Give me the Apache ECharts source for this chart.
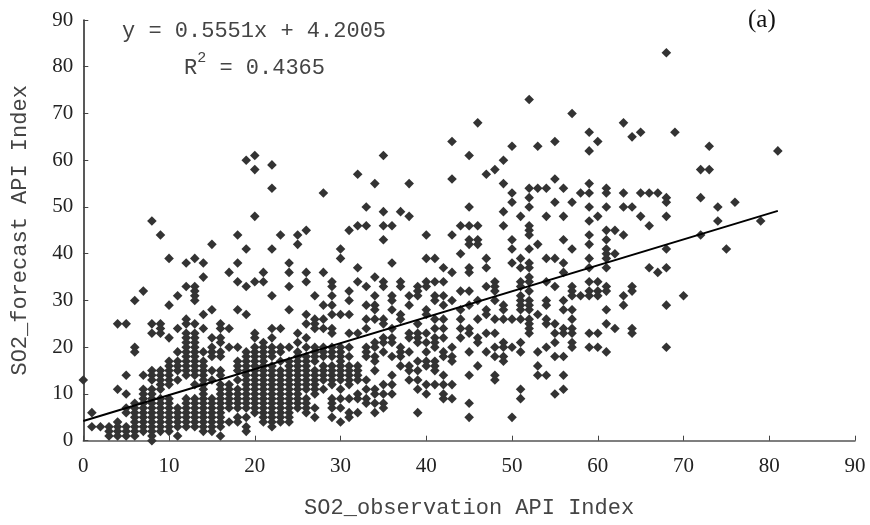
<!DOCTYPE html>
<html><head><meta charset="utf-8">
<style>html,body{margin:0;background:#fff}#c{width:870px;height:525px}</style>
<script src="https://cdn.jsdelivr.net/npm/echarts@6/dist/echarts.min.js"></script>
</head><body><div id="c"></div>
<script>
// forecast values grouped by observation value: [observation, [forecast...]]
const columns = [
[0,[13]],[1,[6,3]],[2,[3]],[3,[3,2,1]],[4,[25,11,4,3,2,1]],
[5,[25,14,10,7,6,3,2,1]],[6,[30,20,19,8,7,6,5,4,3,2,1]],[7,[32,14,11,10,9,8,7,6,5,4,3,2]],
[8,[47,25,23,15,14,13,11,10,9,8,7,6,5,4,3,2,1,0]],[9,[44,25,24,23,15,14,13,12,11,9,8,7,6,5,4,3,2]],
[10,[39,29,22,17,16,15,14,13,12,9,8,7,6,5,4,3,2]],[11,[31,24,19,17,16,15,13,7,6,5,4,3,1]],
[12,[38,33,26,25,23,22,21,20,19,18,17,16,15,14,9,8,7,6,5,4,3]],
[13,[39,33,32,31,30,25,23,22,21,20,19,18,17,16,15,14,12,9,8,7,6,5,4,3]],
[14,[38,35,27,24,19,17,16,15,14,13,12,11,10,9,8,7,6,5,4,3,2]],
[15,[42,28,22,20,19,18,15,13,9,8,7,6,5,4,3,2]],
[16,[25,24,22,21,19,18,15,14,12,11,10,9,8,7,6,5,4,3,1]],
[17,[36,24,20,12,11,10,9,8,7,4]],[18,[44,38,34,28,20,17,16,15,13,11,10,9,8,7,5,4]],
[19,[60,41,33,27,19,18,17,16,15,14,13,12,11,10,9,8,7,5,3,2]],
[20,[61,58,48,34,23,22,20,19,18,17,16,15,14,13,12,11,10,9,8,7,6]],
[21,[36,34,21,20,19,18,17,16,15,14,13,12,11,10,9,8,7,6,5,4]],
[22,[59,54,41,31,24,22,20,19,18,16,15,14,13,12,11,10,9,8,7,6,5,4,3]],
[23,[44,24,20,19,17,15,14,13,12,11,10,9,8,7,6,5,4]],
[24,[38,36,33,28,20,17,16,15,14,13,12,11,10,9,8,7,6,5,4]],
[25,[44,42,23,21,19,18,17,16,15,14,13,12,11,10,9,8,7]],
[26,[45,36,34,27,25,22,20,18,17,16,15,14,13,12,11,9,8,7,6]],
[27,[31,26,25,24,20,19,18,17,15,14,13,12,11,10,7,5]],
[28,[53,36,29,26,24,20,19,18,16,15,14,13,11]],
[29,[34,33,31,29,27,24,23,20,19,18,16,15,14,13,12,9,8,7,5]],
[30,[41,39,27,20,19,18,17,16,15,14,13,11,9,7,4]],
[31,[45,32,30,27,23,20,18,16,15,14,13,12,9,6,5]],
[32,[57,46,37,34,23,16,15,14,13,10,9,6]],[33,[50,46,33,29,26,24,20,19,18,13,11,9,8]],
[34,[55,35,31,29,28,26,21,20,18,17,15,11,10,8,6]],[35,[61,49,46,43,34,33,26,25,22,21,19,12,10,8,7]],
[36,[46,38,31,30,28,24,22,21,18,14,12,10]],[37,[49,34,33,27,26,20,19,18,16]],
[38,[55,48,31,29,23,22,19,16,15,13]],[39,[33,32,31,25,23,22,21,17,15,13,11,6]],
[40,[44,39,34,33,28,27,23,21,19,17,16,12,10]],[41,[39,34,31,30,26,24,22,21,20,17,16,15,12]],
[42,[37,34,31,29,26,24,22,19,18,14,12,10,9]],[43,[64,56,44,36,30,20,18,17,12,9]],
[44,[46,40,32,28,26,24,22]],[45,[61,50,46,43,42,37,36,32,29,24,23,19,14,8,5]],
[46,[68,46,43,42,30,26,22,21,16]],[47,[57,39,37,33,28,27,23,19]],
[48,[58,34,33,32,30,26,23,20,18,14,13]],[49,[60,55,49,46,29,28,26,21,20,18,17]],
[50,[63,53,51,43,41,38,26,20,5]],[51,[48,39,37,34,33,31,30,29,28,26,21,19,11,9]],
[52,[73,54,52,50,46,45,44,41,38,37,35,34,32,30,29,28,26,25,24,23]],
[53,[63,54,42,27,19,16,14]],[54,[54,48,39,34,30,29,26,25,20,14]],
[55,[64,56,51,39,33,25,23,21,18,10]],[56,[54,48,43,38,36,30,28,24,23,18,14,11]],
[57,[70,51,41,33,32,31,28,26,24,23,21,20]],[58,[53,31]],
[59,[66,62,55,53,50,47,44,42,39,37,34,32,31,23,20]],[60,[64,48,34,32,31,23,20]],
[61,[54,53,50,45,43,41,40,39,37,33,32,28,25,19]],[62,[45,40,24]],[63,[68,53,50,44,31,29]],
[64,[65,50,33,32,24,23]],[65,[66,53,48]],[66,[53,46,37]],[67,[53,36]],
[68,[83,52,51,48,41,37,29,20]],[69,[66]],[70,[31]],[72,[58,52,44]],[73,[63,58]],
[74,[50,47]],[75,[41]],[76,[51]],[79,[47]],[81,[62]]
];
const trendX = [0, 81];
const trendY = [4.2005, 49.1636];
const xName = 'SO2_observation API Index';
const yName = 'SO2_forecast API Index';
const equation = 'y = 0.5551x + 4.2005';
const rsquared = ['R', '2', ' = 0.4365'];
const panel = '(a)';

const points = [];
columns.forEach(c => c[1].forEach(y => points.push([c[0], y])));
const mono = '"Liberation Mono","DejaVu Sans Mono",monospace';
const serif = '"Liberation Serif",serif';
const axisCommon = {
  min: 0, max: 90, interval: 10, splitLine: {show: false},
  axisLine: {show: true, onZero: false},
  axisTick: {show: true, inside: true, length: 5, lineStyle: {color: '#444'}},
  axisLabel: {fontFamily: serif, fontSize: 21, color: '#222'},
  nameLocation: 'middle',
  nameTextStyle: {fontFamily: mono, fontSize: 22, color: '#444'}
};
const chart = echarts.init(document.getElementById('c'), null, {renderer: 'canvas'});
chart.setOption({
  animation: false,
  backgroundColor: '#fff',
  grid: {left: 83.3, right: 15, top: 20, bottom: 84.3},
  xAxis: Object.assign({}, axisCommon, {
    type: 'value', name: xName, nameGap: 56,
    axisLine: {show: true, lineStyle: {color: '#555', width: 1.5}},
    axisLabel: Object.assign({}, axisCommon.axisLabel, {margin: 15})
  }),
  yAxis: Object.assign({}, axisCommon, {
    type: 'value', name: yName, nameGap: 52,
    axisLine: {show: true, lineStyle: {color: '#222', width: 1.5}},
    axisLabel: Object.assign({}, axisCommon.axisLabel, {margin: 10})
  }),
  series: [
    {type: 'scatter', data: points, symbol: 'diamond', symbolSize: 9.6,
     itemStyle: {color: '#333', opacity: 1}},
    {type: 'line', data: trendX.map((x, i) => [x, trendY[i]]), symbol: 'none',
     lineStyle: {color: '#000', width: 2}, z: 5}
  ],
  graphic: [
    {type: 'text', left: 122, top: 20, style: {text: equation, fontFamily: mono, fontSize: 22, fill: '#444'}},
    {type: 'text', left: 184, top: 51, style: {
      text: '{a|' + rsquared[0] + '}{s|' + rsquared[1] + '}{a|' + rsquared[2] + '}',
      rich: {
        a: {fontFamily: mono, fontSize: 22, fill: '#444', color: '#444', verticalAlign: 'bottom', lineHeight: 28},
        s: {fontFamily: mono, fontSize: 15, fill: '#444', color: '#444', verticalAlign: 'top', lineHeight: 28}
      }}},
    {type: 'text', left: 748, top: 8, style: {text: panel, fontFamily: serif, fontSize: 25, fill: '#111'}}
  ]
});
</script></body></html>
